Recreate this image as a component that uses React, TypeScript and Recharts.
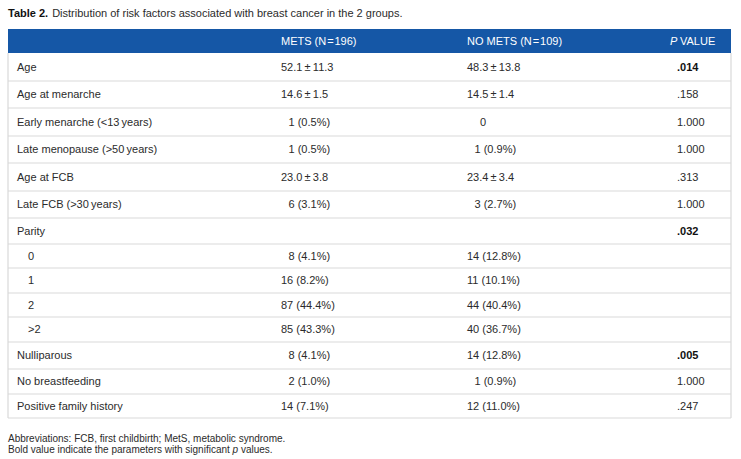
import { ScatterChart, Scatter, XAxis, YAxis, ReferenceArea, ReferenceLine } from "recharts";

// table content
const rowLabels = [
  "Age",
  "Age at menarche",
  "Early menarche (<13\u2009years)",
  "Late menopause (>50\u2009years)",
  "Age at FCB",
  "Late FCB (>30\u2009years)",
  "Parity",
  "0",
  "1",
  "2",
  ">2",
  "Nulliparous",
  "No breastfeeding",
  "Positive family history",
];
const parityLevels = ["0", "1", "2", ">2"];
const metsValues = [
  "52.1\u2009±\u200911.3",
  "14.6\u2009±\u20091.5",
  "1 (0.5%)",
  "1 (0.5%)",
  "23.0\u2009±\u20093.8",
  "6 (3.1%)",
  "",
  "8 (4.1%)",
  "16 (8.2%)",
  "87 (44.4%)",
  "85 (43.3%)",
  "8 (4.1%)",
  "2 (1.0%)",
  "14 (7.1%)",
];
const noMetsValues = [
  "48.3\u2009±\u200913.8",
  "14.5\u2009±\u20091.4",
  "0",
  "1 (0.9%)",
  "23.4\u2009±\u20093.4",
  "3 (2.7%)",
  "",
  "14 (12.8%)",
  "11 (10.1%)",
  "44 (40.4%)",
  "40 (36.7%)",
  "14 (12.8%)",
  "1 (0.9%)",
  "12 (11.0%)",
];
const pValues = [".014", ".158", "1.000", "1.000", ".313", "1.000", ".032", "", "", "", "", ".005", "1.000", ".247"];
const significantP = [".014", ".032", ".005"];
const columnHeaders = ["METS (N\u200A=\u200A196)", "NO METS (N\u200A=\u200A109)", "VALUE"];
const titleLead = "Table 2.";
const titleText = "Distribution of risk factors associated with breast cancer in the 2 groups.";
const footnotes = [
  "Abbreviations: FCB, first childbirth; MetS, metabolic syndrome.",
  "Bold value indicate the parameters with significant p values.",
];

// layout (pixel space, mapped through the chart's scales)
const W = 741;
const H = 459;
const left = 8;
const right = 731;
const headTop = 29;
const headBottom = 53;
const rowBounds = [53, 81, 108, 136, 163, 191, 218, 244, 268, 293, 317, 342, 369, 394, 418];
const colX = [17, 281, 467, 677];
const font = "'Liberation Sans', Arial, Helvetica, sans-serif";
const fs = 11;
const ink = "#2b2b2b";
const blue = "#1557a6";
const rule = "#d9d9d9";

const rowMid = (i: number) => (rowBounds[i] + rowBounds[i + 1]) / 2;

const cellData = (values: string[], col: number) =>
  values.map((text, i) => ({ x: colX[col], y: rowMid(i), text, row: i }));

const labelData = rowLabels.map((text, i) => ({
  x: colX[0] + (i > 6 && i < 11 && parityLevels.includes(text) ? 11 : 0),
  y: rowMid(i),
  text,
}));

// single digit counts are padded to line up with two digit ones
const countOffset = (t: string) => (t === "0" ? 13 : /^\d \(/.test(t) ? 7.5 : 0);

const headerData = columnHeaders.map((text, i) => ({ x: i === 2 ? 670 : colX[i + 1], y: (headTop + headBottom) / 2, text, col: i }));

const TextCell = (props: any) => {
  const { cx, cy, payload } = props;
  if (!payload.text) return <g />;
  return (
    <text x={cx} y={cy} dy="0.36em" fontFamily={font} fontSize={fs} fill={ink}>
      {payload.text}
    </text>
  );
};

const ValueCell = (props: any) => {
  const { cx, cy, payload } = props;
  if (!payload.text) return <g />;
  return (
    <text x={cx + countOffset(payload.text)} y={cy} dy="0.36em" fontFamily={font} fontSize={fs} fill={ink}>
      {payload.text}
    </text>
  );
};

const PCell = (props: any) => {
  const { cx, cy, payload } = props;
  if (!payload.text) return <g />;
  const bold = significantP.includes(payload.text);
  return (
    <text
      x={cx}
      y={cy}
      dy="0.36em"
      fontFamily={font}
      fontSize={fs}
      fontWeight={bold ? 700 : 400}
      fill={bold ? "#111" : ink}
    >
      {payload.text}
    </text>
  );
};

const HeaderCell = (props: any) => {
  const { cx, cy, payload } = props;
  return (
    <text x={cx} y={cy} dy="0.36em" fontFamily={font} fontSize={fs} fill="#fff">
      {payload.col === 2 && <tspan fontStyle="italic">P </tspan>}
      {payload.text}
    </text>
  );
};

const TitleShape = (props: any) => {
  const { cx, cy } = props;
  return (
    <text x={cx} y={cy} dy="0.36em" fontFamily={font} fontSize={fs} fill={ink}>
      <tspan fontWeight={700} fill="#111">{titleLead}</tspan>
      <tspan dx={4}>{titleText}</tspan>
    </text>
  );
};

const NoteShape = (props: any) => {
  const { cx, cy, payload } = props;
  const parts = payload.text.split(" p ");
  return (
    <text x={cx} y={cy} dy="0.36em" fontFamily={font} fontSize={10} fill={ink}>
      {parts.length === 2 ? (
        <>
          {parts[0] + " "}
          <tspan fontStyle="italic">p</tspan>
          {" " + parts[1]}
        </>
      ) : (
        payload.text
      )}
    </text>
  );
};

export default function App() {
  return (
    <div style={{ position: "absolute", left: 0, top: 0, background: "#fff" }}>
      <ScatterChart width={W} height={H} margin={{ top: 0, right: 0, bottom: 0, left: 0 }}>
        <XAxis type="number" dataKey="x" domain={[0, W]} hide />
        <YAxis type="number" dataKey="y" domain={[0, H]} reversed hide />
        <ReferenceArea x1={left} x2={right} y1={headTop} y2={headBottom} fill={blue} fillOpacity={1} stroke="none" />
        {rowBounds.slice(1).map((b) => (
          <ReferenceLine
            key={b}
            segment={[
              { x: left, y: b },
              { x: right, y: b },
            ]}
            stroke={rule}
            strokeWidth={1.2}
          />
        ))}
        <ReferenceLine segment={[{ x: left, y: headBottom }, { x: left, y: rowBounds[rowBounds.length - 1] }]} stroke={rule} strokeWidth={1.2} />
        <ReferenceLine segment={[{ x: right, y: headBottom }, { x: right, y: rowBounds[rowBounds.length - 1] }]} stroke={rule} strokeWidth={1.2} />
        <Scatter data={[{ x: left, y: 13 }]} shape={<TitleShape />} isAnimationActive={false} />
        <Scatter data={headerData} shape={<HeaderCell />} isAnimationActive={false} />
        <Scatter data={labelData} shape={<TextCell />} isAnimationActive={false} />
        <Scatter data={cellData(metsValues, 1)} shape={<ValueCell />} isAnimationActive={false} />
        <Scatter data={cellData(noMetsValues, 2)} shape={<ValueCell />} isAnimationActive={false} />
        <Scatter data={cellData(pValues, 3)} shape={<PCell />} isAnimationActive={false} />
        <Scatter
          data={footnotes.map((text, i) => ({ x: left, y: 438 + i * 11.5, text }))}
          shape={<NoteShape />}
          isAnimationActive={false}
        />
      </ScatterChart>
    </div>
  );
}
